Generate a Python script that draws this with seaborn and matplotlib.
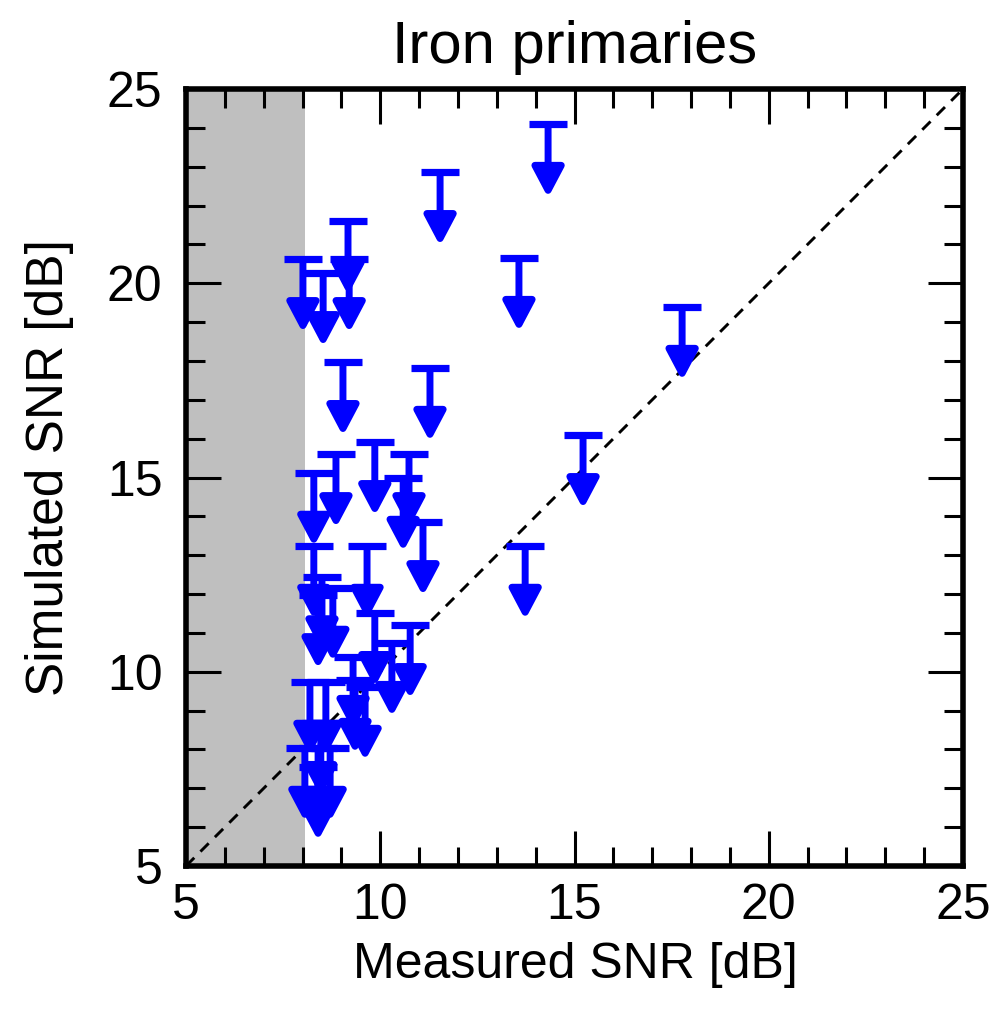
import matplotlib
matplotlib.use("Agg")
import matplotlib.pyplot as plt
import seaborn as sns
import pandas as pd

# Measured SNR (x) and simulated SNR upper limit (y), in dB
measured = [14.32, 11.54, 9.17, 8.01, 9.20, 8.53, 13.57, 17.77,
            9.04, 11.28, 15.22, 9.86, 8.86, 10.74, 8.29, 10.59,
            11.10, 8.29, 9.66, 13.73, 8.50, 8.78, 8.40, 9.86,
            10.77, 10.30, 9.30, 8.19, 8.60, 9.35, 9.61, 8.47,
            8.06, 8.71, 8.40, 8.40]
simulated = [24.10, 22.86, 21.60, 20.62, 20.62, 20.26, 20.65, 19.39,
             17.97, 17.82, 16.09, 15.91, 15.60, 15.60, 15.12, 14.99,
             13.85, 13.24, 13.24, 13.24, 12.43, 12.16, 11.97, 11.51,
             11.20, 10.74, 10.38, 9.74, 9.74, 9.79, 9.61, 8.68,
             8.04, 8.04, 8.04, 7.55]
arrow_len = 1.9
threshold = 8.06
title = "Iron primaries"
xlabel = "Measured SNR [dB]"
ylabel = "Simulated SNR [dB]"
ticks = [5, 10, 15, 20, 25]

df = pd.DataFrame({"measured": measured, "simulated": simulated})

sns.set_theme(style="white")
plt.rcParams["font.family"] = ["Liberation Sans", "DejaVu Sans"]
plt.rcParams["text.color"] = "black"
plt.rcParams["xtick.color"] = "black"
plt.rcParams["ytick.color"] = "black"
plt.rcParams["xtick.labelcolor"] = "black"
plt.rcParams["ytick.labelcolor"] = "black"

fig = plt.figure(figsize=(10.06, 10.14), dpi=100)
ax = fig.add_axes([186 / 1006, 1 - 866 / 1014, (963 - 186) / 1006, (866 - 89) / 1014])

blue = "#0000ff"
ax.axvspan(5, threshold, color="#bfbfbf", lw=0, zorder=0)
sns.lineplot(x=[5, 25], y=[5, 25], ax=ax, color="black", lw=2.1,
             linestyle=(0, (4, 3)), zorder=1)

for x, y in zip(measured, simulated):
    ax.annotate("", xy=(x, y - arrow_len), xytext=(x, y),
                arrowprops=dict(arrowstyle="-|>,head_length=1.8,head_width=0.95",
                                mutation_scale=10, color=blue, lw=5.0,
                                shrinkA=0, shrinkB=0, joinstyle="round",
                                capstyle="butt"),
                zorder=3)

sns.scatterplot(data=df, x="measured", y="simulated", ax=ax, marker="_",
                s=27 ** 2, color=blue, linewidth=5.2, zorder=4, legend=False)

ax.set_xlim(5, 25)
ax.set_ylim(5, 25)
ax.set_xticks(ticks)
ax.set_yticks(ticks)
ax.set_xticks(range(5, 26), minor=True)
ax.set_yticks(range(5, 26), minor=True)
ax.set_xlabel("")
ax.set_ylabel("")
for s in ax.spines.values():
    s.set_linewidth(4)
    s.set_color("black")
    s.set_visible(True)
ax.tick_params(which="both", direction="in", top=True, right=True,
               bottom=True, left=True, color="black", width=2.2)
ax.tick_params(which="major", length=25, labelsize=36, labelcolor="black")
ax.tick_params(which="minor", length=14)
ax.tick_params(axis="x", which="major", pad=12)
ax.tick_params(axis="y", which="major", pad=17)
ax.set_facecolor("white")

fig.text(0.5716, 1 - 63 / 1014, title, ha="center", va="baseline",
         fontsize=43, color="black")
fig.text(0.5716, 1 - 978 / 1014, xlabel, ha="center", va="baseline",
         fontsize=36, color="black")
fig.text(50 / 1006, 1 - 468 / 1014, ylabel, ha="center", va="center",
         rotation=90, fontsize=37, color="black")

fig.savefig("out.png", dpi=100, facecolor="white")
